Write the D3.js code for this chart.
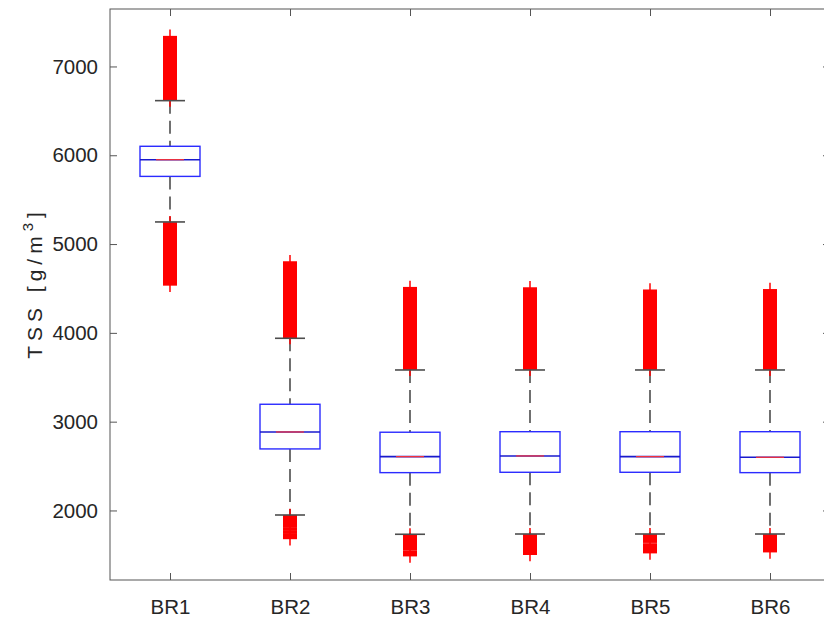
<!DOCTYPE html>
<html>
<head>
<meta charset="utf-8">
<script src="https://cdn.jsdelivr.net/npm/d3@7"></script>
<style>
  body { margin: 0; background: #fff; }
  svg text { font-family: "Liberation Sans", Arial, Helvetica, sans-serif; fill: #262626; }
</style>
</head>
<body>
<div id="chart"></div>
<script>
// box plot values, g/m3
var categories = ["BR1", "BR2", "BR3", "BR4", "BR5", "BR6"];
var q1      = [5762, 2693, 2426, 2430, 2430, 2426];
var median  = [5950, 2884, 2606, 2614, 2606, 2599];
var q3      = [6101, 3196, 2881, 2887, 2887, 2887];
var whiskLo = [5249, 1949, 1732, 1735, 1735, 1735];
var whiskHi = [6615, 3939, 3582, 3582, 3582, 3582];

// outliers are so dense they form solid bands, [low, high] per band
var outHigh = [
  [[6625, 7336]],
  [[3950, 4798]],
  [[3592, 4509]],
  [[3592, 4505]],
  [[3592, 4480]],
  [[3592, 4485]]
];
var outLow = [
  [[4540, 5238]],
  [[1812, 1940], [1778, 1795], [1744, 1761], [1685, 1727]],
  [[1555, 1722], [1491, 1538]],
  [[1507, 1725]],
  [[1643, 1725], [1525, 1623]],
  [[1536, 1725]]
];
var yTicks = [2000, 3000, 4000, 5000, 6000, 7000];

var svg = d3.select("#chart").append("svg")
    .attr("width", 824)
    .attr("height", 623);

var pLeft = 110, pRight = 830, pTop = 9, pBottom = 580;

var x = d3.scaleLinear().domain([0.5, 6.5]).range([pLeft, pRight]);
var y = d3.scaleLinear().domain([1217, 7647]).range([pBottom, pTop]);

var axisColor = "#555";

// y axis left
var gy = svg.append("g")
    .attr("transform", "translate(" + pLeft + ",0)")
    .call(d3.axisLeft(y).tickValues(yTicks).tickSize(-7).tickPadding(12).tickFormat(d3.format("d")));
// x axis bottom
var gx = svg.append("g")
    .attr("transform", "translate(0," + pBottom + ")")
    .call(d3.axisBottom(x).tickValues([1, 2, 3, 4, 5, 6]).tickSize(-7).tickPadding(19)
      .tickFormat(function(d) { return categories[d - 1]; }));
// mirrored ticks top / right
var gt = svg.append("g")
    .attr("transform", "translate(0," + pTop + ")")
    .call(d3.axisTop(x).tickValues([1, 2, 3, 4, 5, 6]).tickSize(-7).tickFormat(""));
var gr = svg.append("g")
    .attr("transform", "translate(" + pRight + ",0)")
    .call(d3.axisRight(y).tickValues(yTicks).tickSize(-7).tickFormat(""));

[gy, gx, gt, gr].forEach(function(g) {
  g.select(".domain").remove();
  g.selectAll(".tick line").attr("stroke", axisColor);
  g.selectAll("text").attr("font-size", "20.5px").attr("fill", "#262626").attr("font-family", null);
});

svg.append("rect")
    .attr("x", pLeft).attr("y", pTop)
    .attr("width", pRight - pLeft).attr("height", pBottom - pTop)
    .attr("fill", "none").attr("stroke", axisColor).attr("stroke-width", 1);

// y label
var yl = svg.append("text")
    .attr("transform", "translate(42," + 283 + ")rotate(-90)")
    .attr("text-anchor", "middle")
    .attr("font-size", "21px")
    .attr("letter-spacing", "5px");
yl.append("tspan").text("TSS [g/m");
yl.append("tspan").attr("dy", -9).attr("font-size", "15px").text("3");
yl.append("tspan").attr("dy", 9).text("]");

var boxW = 30, capW = 15, mk = 7;
var g = svg.append("g");

categories.forEach(function(c, i) {
  var cx = x(i + 1);

  // whiskers
  g.append("line")
      .attr("x1", cx).attr("x2", cx)
      .attr("y1", y(whiskHi[i])).attr("y2", y(q3[i]))
      .attr("stroke", "#4d4d4d").attr("stroke-width", 1.6).attr("stroke-dasharray", "13,7");
  g.append("line")
      .attr("x1", cx).attr("x2", cx)
      .attr("y1", y(q1[i])).attr("y2", y(whiskLo[i]))
      .attr("stroke", "#4d4d4d").attr("stroke-width", 1.6).attr("stroke-dasharray", "13,7");

  // outlier bands (dense '+' markers)
  [outHigh[i], outLow[i]].forEach(function(bands) {
    var lo = d3.min(bands, function(b) { return b[0]; });
    var hi = d3.max(bands, function(b) { return b[1]; });
    g.append("line")
        .attr("x1", cx).attr("x2", cx)
        .attr("y1", y(hi) - mk).attr("y2", y(lo) + mk)
        .attr("stroke", "#f00").attr("stroke-width", 1.5);
    bands.forEach(function(b) {
      g.append("rect")
          .attr("x", cx - mk).attr("width", mk * 2)
          .attr("y", y(b[1]) - 0.75)
          .attr("height", y(b[0]) - y(b[1]) + 1.5)
          .attr("fill", "#f00");
    });
  });

  // caps
  [whiskHi[i], whiskLo[i]].forEach(function(v) {
    g.append("line")
        .attr("x1", cx - capW).attr("x2", cx + capW)
        .attr("y1", y(v)).attr("y2", y(v))
        .attr("stroke", "#4d4d4d").attr("stroke-width", 1.6);
  });

  // box
  g.append("rect")
      .attr("x", cx - boxW).attr("width", boxW * 2)
      .attr("y", y(q3[i])).attr("height", y(q1[i]) - y(q3[i]))
      .attr("fill", "none").attr("stroke", "#2b2bff").attr("stroke-width", 1.4);
  g.append("line")
      .attr("x1", cx - boxW).attr("x2", cx + boxW)
      .attr("y1", y(median[i])).attr("y2", y(median[i]))
      .attr("stroke", "#1a1acc").attr("stroke-width", 1.6);
  g.append("line")
      .attr("x1", cx - 14).attr("x2", cx + 14)
      .attr("y1", y(median[i])).attr("y2", y(median[i]))
      .attr("stroke", "#f33").attr("stroke-width", 1.2);
});
</script>
</body>
</html>
